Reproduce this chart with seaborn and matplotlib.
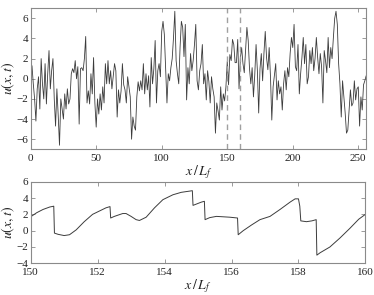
import numpy as np
import pandas as pd
import matplotlib
matplotlib.use("Agg")
import matplotlib.pyplot as plt
import seaborn as sns

# full domain, one sample per unit of x / L_f
x_full = np.arange(0, 257)
u_full = [
    1.0, 1.3, -0.5, -2.0, -4.2, -1.0, 0.2, -3.0, 2.0, -0.5, -2.0, 1.5, -2.5, 0.5, 2.8, -1.0,
    0.8, 2.0, -2.0, -4.7, -1.0, -3.6, -6.6, -2.0, -3.0, -4.0, -1.5, -3.0, -1.0, -2.5, -2.0, 0.5,
    1.0, 0.6, 1.8, 0.0, 1.2, -4.5, 1.0, 1.1, 0.8, 2.0, 4.2, -2.4, -1.2, -2.5, 0.5, -1.5,
    2.1, -2.4, -4.8, -2.0, -3.5, -1.5, -3.1, -0.8, -2.4, 1.5, -0.5, 1.8, -0.5, 0.8, -1.0, 0.3,
    1.5, 0.8, -3.8, -1.1, -2.4, -1.2, 1.5, -0.6, -1.1, -2.4, 0.2, -0.8, -1.8, -6.0, -3.8, -4.7,
    -5.1, -1.8, -0.3, -1.2, -0.2, -1.1, 1.5, -1.5, 0.5, -1.1, 0.3, -2.8, 2.1, -0.5, 1.0, 3.8,
    -2.4, 0.8, 1.5, 0.2, 4.7, 5.7, 4.4, 1.0, -2.4, 0.5, -0.2, 1.1, 2.0, 4.1, 6.7, 1.8,
    0.5, -0.5, 3.1, 5.7, 5.1, 2.2, 5.4, -2.1, 1.1, -0.5, 2.5, 0.8, 1.8, 3.4, 5.4, -0.2,
    -1.1, 0.8, 1.5, 3.4, -0.5, 0.5, -2.1, 0.8, -0.3, -2.4, 0.2, -1.0, -1.8, -5.4, -2.4, -3.2,
    -4.1, -0.8, -3.1, -1.5, -2.2, -0.8, 1.7, -0.6, 2.4, 1.8, 3.9, 3.4, 1.6, 1.6, 3.9, -1.0,
    2.0, 3.1, 1.5, 0.6, 2.8, 5.1, 3.8, 1.0, -0.5, 1.1, -1.8, 0.4, 3.4, 0.8, -3.4, 1.0,
    2.5, -0.2, 2.5, 4.7, 2.1, 0.9, 3.1, 0.2, -4.1, -0.8, 0.4, 1.5, -2.1, -0.2, -1.5, -0.8,
    -3.1, -0.5, 0.8, -1.1, 1.1, 0.2, 2.5, 4.1, 3.1, 5.4, 1.2, 0.8, 3.4, -1.5, 0.5, 2.1,
    4.1, 1.5, 3.4, -0.5, 0.2, 2.8, 1.5, 3.1, 0.8, 2.0, 4.1, 2.1, 0.5, 2.5, 1.2, -2.4,
    2.8, 1.8, 0.6, 4.1, 1.1, 3.1, 2.0, 4.1, 6.0, 6.7, 5.4, 1.5, -0.5, -3.8, -0.2, -1.8,
    -3.4, -5.4, -5.1, -3.1, -1.1, -2.7, -2.4, -0.2, -2.1, -1.0, -0.8, -4.7, -1.8, -3.1, -0.6, -0.2,
    0.3,
]

# zoomed window 150 <= x <= 160
x_zoom = [
    150.0, 150.18, 150.37, 150.57, 150.69, 150.71, 150.82, 151.0, 151.16, 151.36,
    151.6, 151.85, 152.05, 152.25, 152.37, 152.39, 152.5, 152.75, 152.85, 153.0,
    153.15, 153.25, 153.45, 153.7, 153.95, 154.25, 154.5, 154.75, 154.83, 154.85,
    155.1, 155.19, 155.21, 155.35, 155.55, 155.75, 155.95, 156.18, 156.2, 156.35,
    156.6, 156.85, 157.15, 157.45, 157.75, 157.9, 158.0, 158.04, 158.07, 158.24,
    158.4, 158.53, 158.55, 158.65, 158.94, 159.24, 159.54, 159.8, 160.0,
]
u_zoom = [
    1.7, 2.2, 2.6, 2.9, 3.0, -0.3, -0.45, -0.6, -0.5, 0.1,
    1.1, 2.0, 2.4, 2.8, 2.95, 1.55, 1.75, 2.1, 2.1, 1.75,
    1.35, 1.25, 1.65, 2.8, 3.8, 4.4, 4.7, 4.85, 4.9, 3.1,
    3.5, 3.6, 1.35, 1.6, 1.75, 1.7, 1.65, 1.55, -0.5, 0.0,
    0.7, 1.35, 1.75, 2.6, 3.5, 3.9, 3.9, 3.0, 1.2, 1.1,
    1.2, 1.35, -3.0, -2.7, -2.0, -0.9, 0.3, 1.4, 2.0,
]
window = [150, 160]

sns.set_theme(style="white")
plt.rcParams["font.family"] = ["Liberation Serif", "DejaVu Serif"]
plt.rcParams["mathtext.fontset"] = "stix"

line_color = "#3c3c3c"
spine_color = "#8a8a8a"

fig = plt.figure(figsize=(3.74, 2.95), dpi=100)
ax1 = fig.add_axes([0.082, 0.494, 0.897, 0.478])
ax2 = fig.add_axes([0.082, 0.1075, 0.895, 0.2765])

df_full = pd.DataFrame({"x": x_full, "u": u_full})
df_zoom = pd.DataFrame({"x": x_zoom, "u": u_zoom})

sns.lineplot(data=df_full, x="x", y="u", ax=ax1, color=line_color,
             linewidth=0.6, estimator=None, sort=False)
for xv in window:
    ax1.axvline(xv, color="#a0a0a0", linewidth=1.0, linestyle=(0, (4, 3)))
ax1.set_xlim(0, 256)
ax1.set_ylim(-7, 7)
ax1.set_xticks(np.arange(0, 251, 50))
ax1.set_yticks(np.arange(-6, 7, 2))

sns.lineplot(data=df_zoom, x="x", y="u", ax=ax2, color=line_color,
             linewidth=0.7, estimator=None, sort=False)
ax2.set_xlim(150, 160)
ax2.set_ylim(-4, 6)
ax2.set_xticks(np.arange(150, 161, 2))
ax2.set_yticks(np.arange(-4, 7, 2))

for ax in (ax1, ax2):
    for sp in ax.spines.values():
        sp.set_color(spine_color)
        sp.set_linewidth(0.8)
    ax.tick_params(direction="in", length=3, width=0.6, color=spine_color,
                   top=True, right=True, bottom=True, left=True,
                   labelsize=8, pad=2, labelcolor="#222222")
    ax.tick_params(axis="x", pad=3.5)
    ax.set_xlabel(r"$x\,/\,L_f$", fontsize=10, labelpad=0, color="#222222")
    ax.set_ylabel(r"$u(x,t)$", fontsize=10, color="#222222")
    ax.yaxis.set_label_coords(-0.042, 0.5)

fig.savefig("out.png", dpi=100)
